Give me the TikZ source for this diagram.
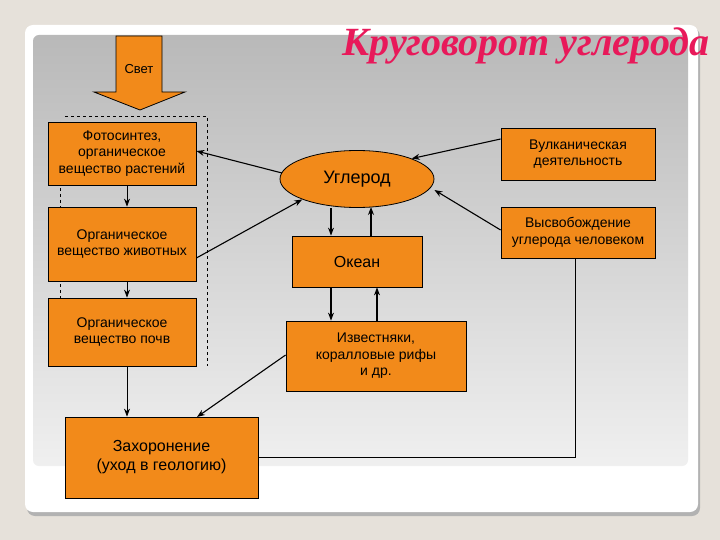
\documentclass[tikz,border=0pt]{standalone}
\usepackage{fontspec}
\setmainfont{Liberation Sans}
\newfontfamily\titlefont{Liberation Serif}[BoldItalicFont={Liberation Serif Bold Italic}]
\usetikzlibrary{shapes.geometric,arrows.meta}
\definecolor{bg}{HTML}{E6E1DA}
\definecolor{og}{HTML}{F28A1A}
\definecolor{ttl}{HTML}{E8195A}
\begin{document}
\begin{tikzpicture}[x=1pt,y=-1pt,
 box/.style={draw=black,fill=og,line width=0.8pt,inner sep=0pt,align=center,font=\fontsize{14}{16.5}\selectfont},
 ar/.style={-{Stealth[length=8pt,width=6pt]},line width=1.1pt},
 ln/.style={line width=0.9pt}]
\useasboundingbox (0,0) rectangle (720,540);
\fill[bg] (0,0) rectangle (720,540);
\fill[gray!60,rounded corners=8pt] (27,28) rectangle (700,516);
\fill[white,rounded corners=8pt] (25,25) rectangle (698,512);
\shade[top color=gray!55,bottom color=gray!12,rounded corners=6pt] (33,35) rectangle (688,466);
\node[font=\titlefont\bfseries\itshape\fontsize{40}{44}\selectfont,text=ttl] (title) at (526,46) {Круговорот углерода};
% light arrow
\filldraw[fill=og,draw=black,line width=0.8pt] (116,36) -- (162,36) -- (162,92) -- (185,92) -- (140,110) -- (94,92) -- (116,92) -- cycle;
\node[font=\fontsize{13}{15}\selectfont] (svet) at (139,69) {Свет};
\draw[dashed,line width=0.6pt] (65,116) -- (207,116) -- (207,366);
\draw[dashed,line width=0.6pt] (60,122) -- (60,366);
\node[box,minimum width=148pt,minimum height=63pt] (foto) at (122,153.5) {Фотосинтез,\\органическое\\вещество растений};
\node[box,minimum width=148pt,minimum height=74pt] (anim) at (122,244) {Органическое\\вещество животных};
\node[box,minimum width=148pt,minimum height=68pt] (soil) at (122,332) {Органическое\\вещество почв};
\node[box,minimum width=193pt,minimum height=81pt,font=\fontsize{16}{19}\selectfont] (bur) at (161.5,457.5) {Захоронение\\(уход в геологию)};
\node[ellipse,draw=black,fill=og,line width=0.8pt,minimum width=154pt,minimum height=57pt,inner sep=0pt,font=\fontsize{18}{20}\selectfont] (C) at (357,179) {Углерод};
\node[box,minimum width=130pt,minimum height=51pt,font=\fontsize{16}{18}\selectfont] (ocean) at (357,261.5) {Океан};
\node[box,minimum width=180pt,minimum height=70pt] (lime) at (376,356) {Известняки,\\коралловые рифы\\и др.};
\node[box,minimum width=154pt,minimum height=52pt] (volc) at (578,154) {Вулканическая\\деятельность};
\node[box,minimum width=154pt,minimum height=51pt] (human) at (578,232.5) {Высвобождение\\углерода человеком};
% arrows
\coordinate (c1) at (282,173);
\draw[ar] (c1) -- (foto.east |- 0,151);
\draw[ar] (anim.east |- 0,258) -- (C.south west);
\draw[ar] (volc.west |- 0,139) -- (C.north east);
\draw[ar] (human.west |- 0,230) -- (C.east |- 0,190);
\draw[ar] (C.south -| 331,0) -- (ocean.north -| 331,0);
\draw[ar] (ocean.north -| 371,0) -- (371,207);
\draw[ar] (ocean.south -| 331,0) -- (lime.north -| 331,0);
\draw[ar] (lime.north -| 377,0) -- (ocean.south -| 377,0);
\coordinate (b1) at (197,417);
\draw[ar] (lime.west |- 0,355) -- (b1);
\draw[ar,line width=0.8pt] (foto.south -| 127,0) -- (anim.north -| 127,0);
\draw[ar,line width=0.8pt] (anim.south -| 127,0) -- (soil.north -| 127,0);
\draw[ar,line width=0.8pt] (soil.south -| 127,0) -- (bur.north -| 127,0);
\draw[ln] (bur.east |- 0,457) -| (human.south -| 575,0);
\end{tikzpicture}
\end{document}
